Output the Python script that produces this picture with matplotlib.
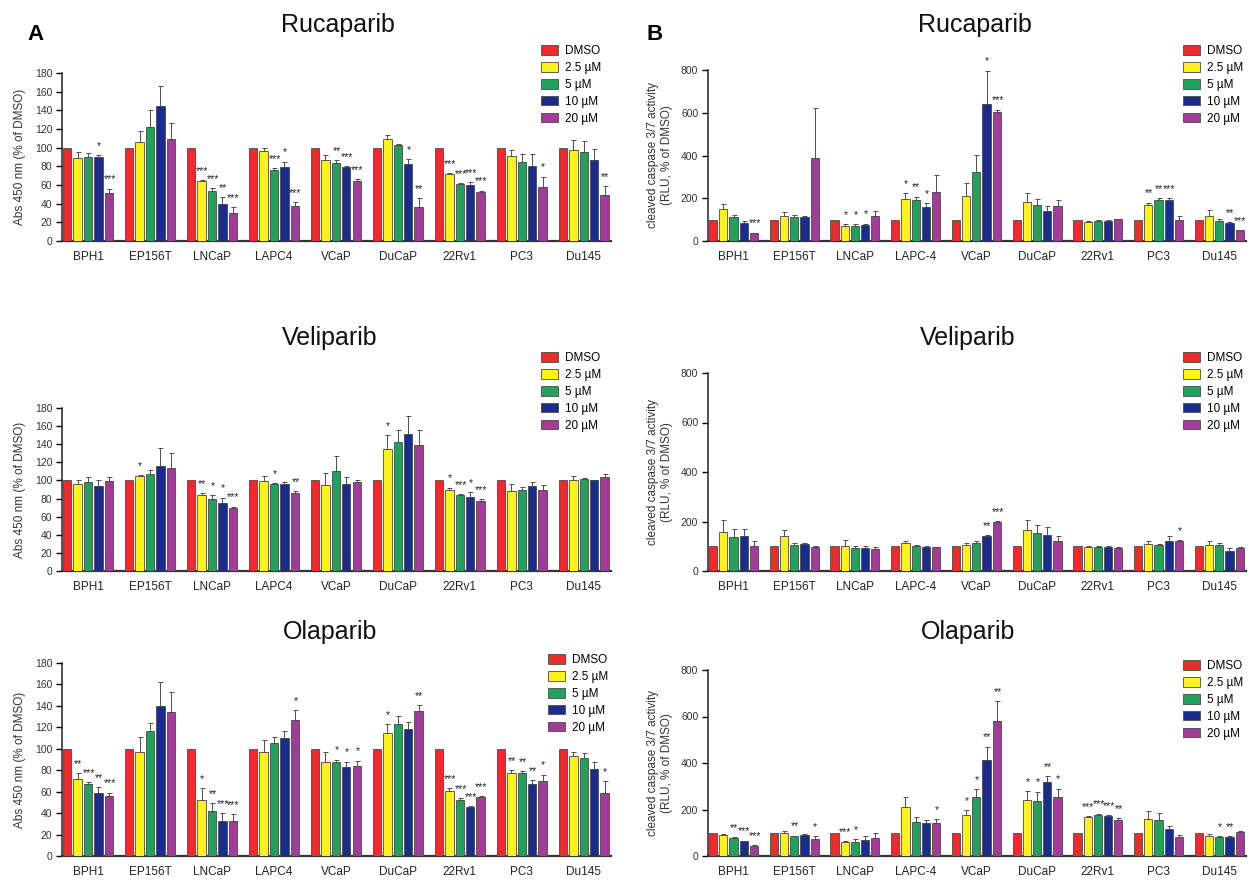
import matplotlib
matplotlib.use("Agg")
import matplotlib.pyplot as plt
from matplotlib.patches import Patch
import numpy as np

plt.rcParams['font.family'] = ['Liberation Sans', 'DejaVu Sans']

cells_a = ["BPH1", "EP156T", "LNCaP", "LAPC4", "VCaP", "DuCaP", "22Rv1", "PC3", "Du145"]
cells_b = ["BPH1", "EP156T", "LNCaP", "LAPC-4", "VCaP", "DuCaP", "22Rv1", "PC3", "Du145"]
doses = ["DMSO", "2.5 µM", "5 µM", "10 µM", "20 µM"]
dose_colors = ["#EE2B2B", "#FFF21A", "#21A15C", "#1A2D8E", "#A23C98"]

# ---- Rucaparib, proliferation (A) ----
ruc_a_vals = [[100, 89, 90, 90, 51], [100, 106, 122, 145, 109], [100, 64, 54, 40, 30],
              [100, 96, 76, 79, 37], [100, 87, 84, 79, 64], [100, 109, 103, 83, 36],
              [100, 72, 61, 60, 52], [100, 91, 85, 80, 58], [100, 98, 95, 87, 49]]
ruc_a_errs = [[0, 6, 4, 2, 5], [0, 12, 18, 21, 17], [0, 1, 3, 7, 6],
              [0, 4, 2, 6, 5], [0, 5, 3, 1, 2], [0, 5, 1, 5, 10],
              [0, 1, 1, 3, 2], [0, 6, 8, 13, 11], [0, 10, 12, 12, 10]]
ruc_a_stars = [["", "", "", "*", "***"], ["", "", "", "", ""], ["", "***", "***", "**", "***"],
               ["", "", "***", "*", "***"], ["", "", "**", "***", "***"], ["", "", "", "*", "**"],
               ["", "***", "***", "***", "***"], ["", "", "", "", "*"], ["", "", "", "", "**"]]

# ---- Rucaparib, caspase (B) ----
ruc_b_vals = [[100, 148, 110, 82, 36], [100, 115, 110, 113, 388], [100, 70, 70, 76, 115],
              [100, 196, 190, 160, 230], [100, 212, 322, 643, 603], [100, 183, 170, 140, 162],
              [100, 90, 93, 95, 103], [100, 167, 190, 193, 100], [100, 116, 95, 85, 50]]
ruc_b_errs = [[0, 24, 10, 12, 3], [0, 20, 12, 6, 236], [0, 8, 8, 5, 25],
              [0, 28, 18, 18, 77], [0, 58, 80, 154, 12], [0, 42, 27, 22, 32],
              [0, 5, 4, 3, 2], [0, 13, 10, 8, 18], [0, 30, 10, 4, 2]]
ruc_b_stars = [["", "", "", "", "***"], ["", "", "", "", ""], ["", "*", "*", "*", ""],
               ["", "*", "**", "*", ""], ["", "", "", "*", "***"], ["", "", "", "", ""],
               ["", "", "", "", ""], ["", "**", "**", "***", ""], ["", "", "", "**", "***"]]

# ---- Veliparib, proliferation (A) ----
vel_a_vals = [[100, 96, 98, 94, 99], [100, 105, 107, 116, 114], [100, 84, 79, 75, 70],
              [100, 99, 96, 96, 86], [100, 95, 110, 96, 98], [100, 135, 142, 151, 139],
              [100, 89, 84, 82, 77], [100, 88, 89, 94, 90], [100, 101, 102, 100, 104]]
vel_a_errs = [[0, 4, 6, 7, 5], [0, 1, 5, 20, 16], [0, 2, 5, 6, 1],
              [0, 6, 1, 2, 2], [0, 13, 17, 8, 3], [0, 15, 14, 20, 17],
              [0, 3, 1, 5, 2], [0, 8, 4, 4, 5], [0, 4, 1, 1, 3]]
vel_a_stars = [["", "", "", "", ""], ["", "*", "", "", ""], ["", "**", "*", "*", "***"],
               ["", "", "*", "", "**"], ["", "", "", "", ""], ["", "*", "", "", ""],
               ["", "*", "***", "*", "***"], ["", "", "", "", ""], ["", "", "", "", ""]]

# ---- Veliparib, caspase (B) ----
vel_b_vals = [[100, 157, 138, 140, 103], [100, 142, 107, 110, 97], [100, 102, 93, 93, 90],
              [100, 113, 100, 98, 95], [100, 105, 113, 140, 197], [100, 165, 155, 147, 121],
              [100, 95, 95, 96, 93], [100, 108, 106, 122, 120], [100, 107, 104, 82, 92]]
vel_b_errs = [[0, 48, 30, 30, 20], [0, 23, 5, 4, 3], [0, 22, 10, 6, 5],
              [0, 8, 4, 4, 2], [0, 8, 8, 4, 5], [0, 43, 30, 32, 20],
              [0, 6, 5, 3, 3], [0, 12, 3, 20, 6], [0, 15, 10, 10, 3]]
vel_b_stars = [["", "", "", "", ""], ["", "", "", "", ""], ["", "", "", "", ""],
               ["", "", "", "", ""], ["", "", "", "**", "***"], ["", "", "", "", ""],
               ["", "", "", "", ""], ["", "", "", "", "*"], ["", "", "", "", ""]]

# ---- Olaparib, proliferation (A) ----
ola_a_vals = [[100, 72, 67, 59, 56], [100, 97, 117, 140, 134], [100, 52, 42, 33, 33],
              [100, 97, 105, 110, 127], [100, 88, 88, 83, 84], [100, 115, 123, 118, 135],
              [100, 61, 52, 46, 55], [100, 77, 77, 67, 70], [100, 93, 91, 81, 59]]
ola_a_errs = [[0, 5, 2, 5, 3], [0, 14, 7, 22, 19], [0, 11, 7, 7, 6],
              [0, 11, 6, 7, 9], [0, 9, 2, 5, 5], [0, 8, 8, 7, 6],
              [0, 2, 2, 0.5, 1], [0, 3, 2, 4, 6], [0, 4, 5, 7, 11]]
ola_a_stars = [["", "**", "***", "**", "***"], ["", "", "", "", ""], ["", "*", "**", "***", "***"],
               ["", "", "", "", "*"], ["", "", "*", "*", "*"], ["", "*", "", "", "**"],
               ["", "***", "***", "***", "***"], ["", "**", "**", "**", "*"], ["", "", "", "", "*"]]

# ---- Olaparib, caspase (B) ----
ola_b_vals = [[100, 92, 78, 63, 45], [100, 98, 85, 90, 75], [100, 60, 62, 70, 78],
              [100, 212, 147, 140, 143], [100, 175, 255, 415, 580], [100, 240, 237, 320, 255],
              [100, 168, 177, 170, 153], [100, 160, 155, 115, 83], [100, 87, 80, 80, 102]]
ola_b_errs = [[0, 4, 3, 3, 3], [0, 8, 3, 3, 10], [0, 3, 10, 15, 22],
              [0, 40, 20, 16, 14], [0, 22, 33, 55, 87], [0, 40, 40, 25, 35],
              [0, 3, 5, 7, 10], [0, 35, 32, 12, 8], [0, 8, 4, 4, 6]]
ola_b_stars = [["", "", "**", "***", "***"], ["", "", "**", "", "*"], ["", "***", "*", "", ""],
               ["", "", "", "", "*"], ["", "*", "*", "**", "**"], ["", "*", "*", "**", "*"],
               ["", "***", "***", "***", "**"], ["", "", "", "", ""], ["", "", "*", "**", ""]]

W, H = 1250, 889
fig = plt.figure(figsize=(W / 100, H / 100), dpi=100)
fig.patch.set_facecolor("white")


def px_axes(left, right, top, bottom):
    return fig.add_axes([left / W, 1 - bottom / H, (right - left) / W, (bottom - top) / H])


def draw(ax, cells, vals, errs, stars, ymax, ystep, ylabel, title, title_x, title_y, leg_x, leg_y):
    n = len(cells)
    step = 0.168
    width = 0.135
    x = np.arange(n)
    vals = np.array(vals, dtype=float)
    errs = np.array(errs, dtype=float)
    for j in range(len(doses)):
        xs = x + (j - 2) * step
        ax.bar(xs, vals[:, j], width=width, color=dose_colors[j], edgecolor="#4a4a4a",
               linewidth=0.6, zorder=3)
        if j > 0:
            ax.errorbar(xs, vals[:, j], yerr=[np.zeros(n), errs[:, j]], fmt="none",
                        ecolor="#4d4d4d", elinewidth=0.7, capsize=1.8, capthick=0.7, zorder=2)
        for i in range(n):
            s = stars[i][j]
            if s:
                ax.annotate(s, (xs[i], vals[i, j] + errs[i, j]), xytext=(0.5, 3.0),
                            textcoords="offset points", ha="center", va="bottom",
                            fontsize=7.5, color="#222222", annotation_clip=False)
    ax.set_xlim(-0.42, n - 1 + 0.44)
    ax.set_ylim(0, ymax)
    ax.set_yticks(np.arange(0, ymax + 1, ystep))
    ax.set_xticks(x)
    ax.set_xticklabels(cells, fontsize=8.5, color="#222222")
    ax.tick_params(axis="x", length=0, pad=7)
    ax.tick_params(axis="y", length=4, width=1.0, labelsize=7.5, labelcolor="#333333",
                   direction="out", pad=3)
    for sp in ["top", "right"]:
        ax.spines[sp].set_visible(False)
    ax.spines["left"].set_linewidth(1.1)
    ax.spines["bottom"].set_linewidth(1.6)
    ax.spines["left"].set_color("#222222")
    ax.spines["bottom"].set_color("#333333")
    ax.set_ylabel(ylabel, fontsize=8.5, color="#333333", labelpad=6)
    fig.text(title_x / W, 1 - title_y / H, title, fontsize=18, ha="center", va="center",
             color="#111111")
    handles = [Patch(facecolor=c, edgecolor="#4a4a4a", linewidth=0.6) for c in dose_colors]
    ax.legend(handles, doses, loc="upper left", bbox_to_anchor=(leg_x / W, 1 - leg_y / H),
              bbox_transform=fig.transFigure, frameon=False, fontsize=8.5,
              handlelength=1.4, handleheight=0.85, labelspacing=0.42, handletextpad=0.6,
              borderaxespad=0, borderpad=0)


ylab_a = "Abs 450 nm (% of DMSO)"
ylab_b = "cleaved caspase 3/7 activity\n(RLU, % of DMSO)"

ax1 = px_axes(62, 611, 73, 241)
draw(ax1, cells_a, ruc_a_vals, ruc_a_errs, ruc_a_stars, 180, 20, ylab_a,
     "Rucaparib", 338, 25, 541, 45)
ax2 = px_axes(708, 1246, 70, 241)
draw(ax2, cells_b, ruc_b_vals, ruc_b_errs, ruc_b_stars, 800, 200, ylab_b,
     "Rucaparib", 975, 25, 1183, 45)
ax3 = px_axes(62, 611, 408, 571)
draw(ax3, cells_a, vel_a_vals, vel_a_errs, vel_a_stars, 180, 20, ylab_a,
     "Veliparib", 330, 338, 541, 352)
ax4 = px_axes(708, 1246, 373, 571)
draw(ax4, cells_b, vel_b_vals, vel_b_errs, vel_b_stars, 800, 200, ylab_b,
     "Veliparib", 968, 338, 1183, 352)
ax5 = px_axes(62, 611, 663, 856)
draw(ax5, cells_a, ola_a_vals, ola_a_errs, ola_a_stars, 180, 20, ylab_a,
     "Olaparib", 330, 632, 548, 654)
ax6 = px_axes(708, 1246, 670, 856)
draw(ax6, cells_b, ola_b_vals, ola_b_errs, ola_b_stars, 800, 200, ylab_b,
     "Olaparib", 968, 632, 1183, 660)

fig.text(35 / W, 1 - 35 / H, "A", fontsize=16, fontweight="bold", ha="center", va="center")
fig.text(655 / W, 1 - 35 / H, "B", fontsize=16, fontweight="bold", ha="center", va="center")

fig.savefig("out.png", dpi=100, facecolor="white")
